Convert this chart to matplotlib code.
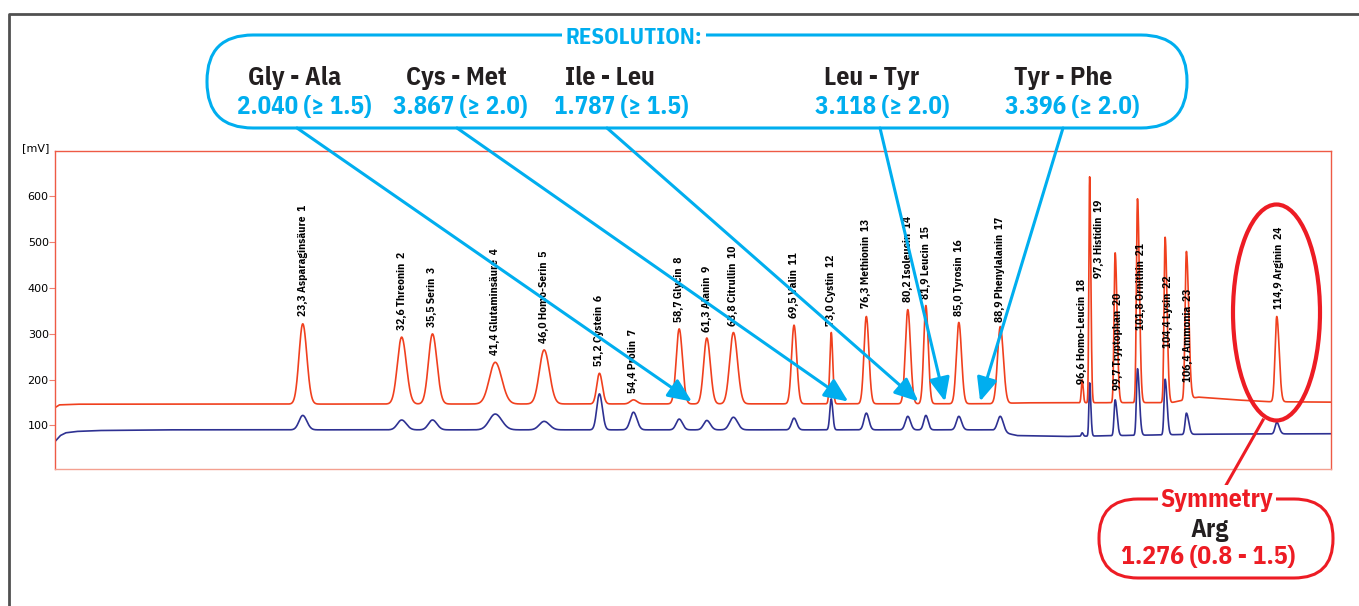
import numpy as np
import matplotlib.pyplot as plt
from matplotlib.patches import FancyBboxPatch, Ellipse

################################################# Data
# retention time [min], peak name, peak top red / blue trace [mV]
rt = [23.3, 32.6, 35.5, 41.4, 46.0, 51.2, 54.4, 58.7, 61.3, 63.8, 69.5, 73.0,
      76.3, 80.2, 81.9, 85.0, 88.9, 96.6, 97.3, 99.7, 101.8, 104.4, 106.4, 114.9]
names = ["Asparaginsäure", "Threonin", "Serin", "Glutaminsäure", "Homo-Serin",
         "Cystein", "Prolin", "Glycin", "Alanin", "Citrullin", "Valin", "Cystin",
         "Methionin", "Isoleucin", "Leucin", "Tyrosin", "Phenylalanin",
         "Homo-Leucin", "Histidin", "Tryptophan", "Ornithin", "Lysin",
         "Ammonia", "Arginin"]
red_top = [322, 293, 300, 238, 265, 214, 156, 311, 291, 303, 319, 303,
           338, 353, 362, 325, 316, 200, 643, 477, 595, 511, 480, 338]
blue_top = [122, 112, 112, 125, 109, 169, 129, 114, 111, 118, 116, 158,
            127, 120, 122, 120, 120, 84, 193, 156, 224, 201, 127, 107]
width = [0.35, 0.40, 0.38, 0.56, 0.45, 0.25, 0.30, 0.28, 0.30, 0.35, 0.23, 0.13,
         0.22, 0.23, 0.20, 0.23, 0.26, 0.08, 0.07, 0.10, 0.10, 0.10, 0.12, 0.16]
tail = [1.1] * 17 + [1.2, 1.6, 1.8, 1.8, 1.8, 1.8, 1.4]
label_at = [338, 309, 316, 254, 280, 229, 171, 325, 305, 318, 335, 318,
            357, 369, 376, 340, 327, 191, 422, 178, 309, 269, 196, 354]
label_dx = [0] * 18 + [9, 3, 4, 3, 2, 2]  # px

red_base_t = [0, 0.4, 2, 88, 91, 105, 107.5, 111, 114, 120]
red_base_v = [139, 145, 146.5, 147.5, 149.5, 150, 162, 156, 152, 151]
blue_base_t = [0, 0.5, 1, 2, 4, 10, 88, 90.5, 95, 100, 108, 120]
blue_base_v = [65, 78, 84, 87, 89, 90.5, 90.5, 78, 76, 78, 81, 82]

# resolution box
pairs = ["Gly - Ala", "Cys - Met", "Ile - Leu", "Leu - Tyr", "Tyr - Phe"]
res_val = ["2.040", "3.867", "1.787", "3.118", "3.396"]
res_lim = ["1.5", "2.0", "1.5", "2.0", "2.0"]
gap_t = [59.9, 74.6, 81.2, 83.7, 87.0]
pair_x = [295, 456, 610, 872, 1063]
val_x = [304, 460, 621, 882, 1072]
arrow_x = [297, 457, 607, 880, 1063]

# symmetry box
sym_name = "Arg"
sym_val = "1.276"
sym_range = "0.8 - 1.5"

cyan = "#00AEEF"
redbox = "#ED1C24"
red_line = "#F0401E"
blue_line = "#2E3192"
narrow = ["IBM Plex Sans Condensed", "DejaVu Sans"]

################################################# Traces
t = np.linspace(0, 120, 12001)


def trace(tops, bt, bv):
    y = np.interp(t, bt, bv)
    for r, h, w, k in zip(rt, tops, width, tail):
        amp = h - np.interp(r, bt, bv)
        s = np.where(t < r, w, w * k)
        y = y + amp * np.exp(-0.5 * ((t - r) / s) ** 2)
    return y


red = trace(red_top, red_base_t, red_base_v)
blue = trace(blue_top, blue_base_t, blue_base_v)

################################################# Plot
fig = plt.figure(figsize=(13.59, 6.06), dpi=100)
ax = fig.add_axes([55 / 1359, 1 - 469 / 606, (1331 - 55) / 1359, (469 - 150.7) / 606])
ax.plot(t, blue, color=blue_line, lw=1.2)
ax.plot(t, red, color=red_line, lw=1.2)
ax.set_xlim(0, 120)
ax.set_ylim(5, 700)
ax.set_xticks([])
ax.set_yticks([100, 200, 300, 400, 500, 600])
ax.tick_params(axis="y", length=4, width=0.8, color="#F08070", labelsize=8, pad=0.5)
for s in ["left", "top", "right"]:
    ax.spines[s].set_color("#EE5A45")
ax.spines["bottom"].set_color("#F4A090")
for s in ax.spines.values():
    s.set_linewidth(1.0)

for r, n, name, ly, dx in zip(rt, range(1, 25), names, label_at, label_dx):
    txt = ("%.1f" % r).replace(".", ",") + " " + name + "  " + str(n)
    ax.annotate(txt, xy=(r, ly), xytext=(dx * 0.72, 0), textcoords="offset points",
                rotation=90, ha="center", va="bottom", fontsize=8.2,
                fontweight="bold", family=narrow)

# overlay in pixel coords for the boxes
ov = fig.add_axes([0, 0, 1, 1], zorder=5)
ov.set_xlim(0, 1359)
ov.set_ylim(606, 0)
ov.axis("off")

ov.plot([8.5, 8.5, 1359], [606, 13.5, 13.5], color="#505050", lw=2)
ov.text(36, 148, "[mV]", ha="center", va="center", fontsize=8)

ov.add_patch(FancyBboxPatch((207, 35), 980, 93, boxstyle="round,pad=0,rounding_size=46",
                            fill=False, ec=cyan, lw=2.2))
ov.text(634, 37, "RESOLUTION:", ha="center", va="center", color=cyan, fontsize=16.5,
        fontweight="bold", family=narrow,
        bbox=dict(boxstyle="square,pad=0.15", fc="white", ec="none"))
for p, v, lim, g, px, vx, axx in zip(pairs, res_val, res_lim, gap_t, pair_x, val_x, arrow_x):
    ov.text(px, 78, p, ha="center", va="center", fontsize=18.5, fontweight="bold",
            family=narrow, color="#231F20")
    ov.text(vx, 107, v + " (\u2265 " + lim + ")", ha="center", va="center", fontsize=18,
            fontweight="bold", family=narrow, color=cyan)
    tip = np.interp(g, red_base_t, red_base_v) + 5
    ov.annotate("", xy=(g, tip), xycoords=ax.transData, xytext=(axx, 128),
                textcoords="data",
                arrowprops=dict(arrowstyle="-|>,head_length=0.8,head_width=0.35",
                                color=cyan, lw=2.2, mutation_scale=18,
                                shrinkA=0, shrinkB=0))

ov.add_patch(Ellipse((1276.5, 312.5), 87, 216, fill=False, ec=redbox, lw=3))
ov.plot([1263, 1225], [420, 487], color=redbox, lw=2.2)
ov.add_patch(FancyBboxPatch((1099, 499), 234, 79, boxstyle="round,pad=0,rounding_size=39",
                            fill=False, ec=redbox, lw=2.2))
ov.text(1217, 500, "Symmetry", ha="center", va="center", color=redbox, fontsize=18.5,
        fontweight="bold", family=narrow,
        bbox=dict(boxstyle="square,pad=0.12", fc="white", ec="none"))
ov.text(1210, 530, sym_name, ha="center", va="center", color="#231F20", fontsize=18.5,
        fontweight="bold", family=narrow)
ov.text(1208, 557, sym_val + " (" + sym_range + ")", ha="center", va="center",
        color=redbox, fontsize=18.5, fontweight="bold", family=narrow)

fig.savefig("out.png", dpi=100)
